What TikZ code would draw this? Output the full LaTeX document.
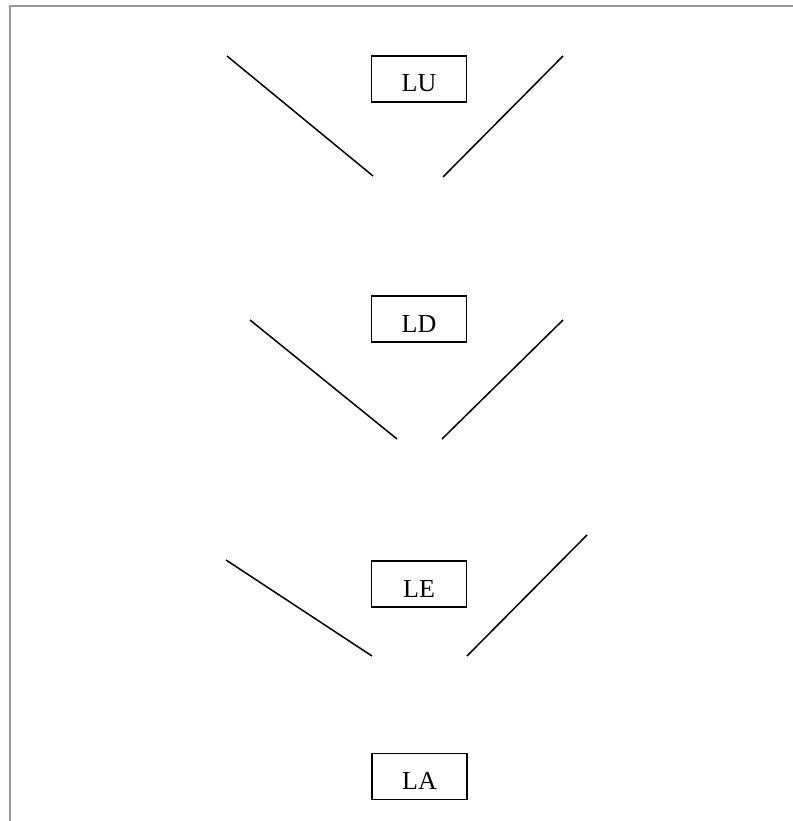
\documentclass[tikz,border=0pt]{standalone}
\usepackage{fontspec}
\setmainfont{Liberation Serif}
\begin{document}
\begin{tikzpicture}[x=1pt,y=-1pt,
  lbox/.style={draw=black,line width=1.4pt,minimum width=95pt,minimum height=46pt,inner sep=0pt,text height=26pt,text depth=0pt,font=\fontsize{26}{30}\selectfont},
  vline/.style={draw=black,line width=1.5pt},
  frameline/.style={draw=black!40,line width=2pt}]
\useasboundingbox (0,0) rectangle (792,821);
\fill[white] (0,0) rectangle (792,821);
\draw[frameline] (9.5,830) -- (9.5,6.5) -- (800,6.5);
\node[lbox] (LU) at (419,79) {LU};
\node[lbox] (LD) at (419,319) {LD};
\node[lbox] (LE) at (419,584) {LE};
\node[lbox] (LA) at (419.5,776.5) {LA};
% LU group
\coordinate (u1) at (227,56);
\coordinate (u2) at (373,176);
\coordinate (u3) at (563,56);
\coordinate (u4) at (443,177);
\draw[vline] (u1) -- (u2);
\draw[vline] (u3) -- (u4);
% LD group
\coordinate (d1) at (250,320);
\coordinate (d2) at (397,439);
\coordinate (d3) at (563,320);
\coordinate (d4) at (442,439);
\draw[vline] (d1) -- (d2);
\draw[vline] (d3) -- (d4);
% LE group
\coordinate (e1) at (226,560);
\coordinate (e2) at (372,656);
\coordinate (e3) at (587,535);
\coordinate (e4) at (467,656);
\draw[vline] (e1) -- (e2);
\draw[vline] (e3) -- (e4);
\end{tikzpicture}
\end{document}
